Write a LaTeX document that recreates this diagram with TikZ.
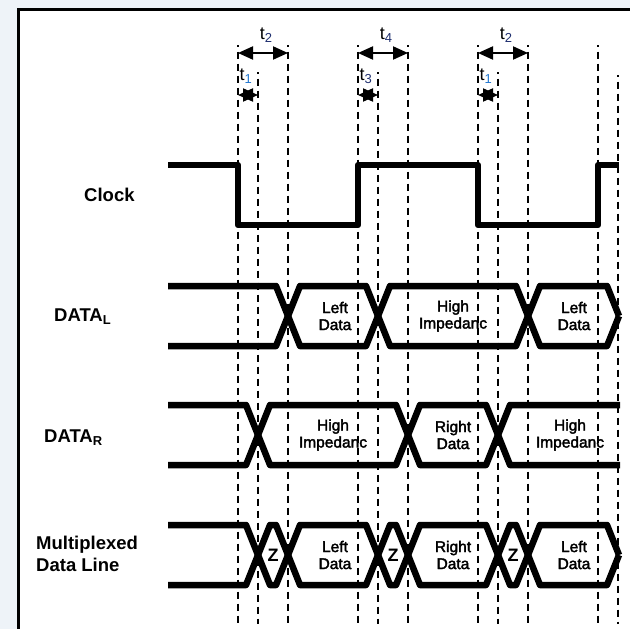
\documentclass[tikz,border=0pt]{standalone}
\usepackage{fontspec}
\setmainfont{Liberation Sans}
\newfontfamily\busfont[FakeBold=2.2]{Liberation Sans}
\usetikzlibrary{arrows.meta}
\definecolor{bgblue}{HTML}{EEF3F8}
\definecolor{subblue}{HTML}{2478D0}
\definecolor{subnavy}{HTML}{1F2F6F}
\newcommand{\tsub}[2]{t\raisebox{-3.5pt}{\fontsize{13}{13}\selectfont\color{#1}#2}}

\begin{document}
\begin{tikzpicture}[x=1pt,y=-1pt,
  wave/.style={line width=6.5pt, line join=round},
  guide/.style={line width=1.6pt, dash pattern=on 7pt off 5pt, dash phase=5.5pt},
  span/.style={line width=2pt, {Triangle[length=15pt,width=13pt]}-{Triangle[length=15pt,width=13pt]}},
  sig/.style={font=\fontsize{18.5}{22}\selectfont\bfseries, anchor=west, align=left, inner sep=0pt},
  bustext/.style={font=\busfont\fontsize{15.5}{17}\selectfont, align=center, inner sep=0pt},
  ztext/.style={font=\fontsize{18}{20}\selectfont\bfseries, inner sep=0pt},
  tlab/.style={font=\fontsize{18}{20}\selectfont, inner sep=0pt}
]
\useasboundingbox (0,0) rectangle (630,629);
\clip (0,0) rectangle (630,629);

% page background and frame
\fill[bgblue] (0,0) rectangle (630,629);
\filldraw[fill=white, draw=black, line width=2.8pt] (18.7,9.7) rectangle (660,660);

% signal names
\node[sig] (clk) at (84,195) {Clock};
\node[sig] (dl)  at (54,317) {DATA\textsubscript{L}};
\node[sig] (dr)  at (44,438) {DATA\textsubscript{R}};
\node[sig] (mux) at (36,554) {Multiplexed\\Data Line};

% clock
\draw[wave] (168,165) -- (238,165) -- (238,225) -- (358,225) -- (358,165)
  -- (478,165) -- (478,225) -- (598,225) -- (598,165) -- (619,165);

% DATA_L bus (top 286, bottom 346)
\draw[wave] (168,286) -- (276,286) -- (300,346) -- (366,346) -- (390,286)
  -- (516,286) -- (540,346) -- (607,346) -- (619,316);
\draw[wave] (168,346) -- (276,346) -- (300,286) -- (366,286) -- (390,346)
  -- (516,346) -- (540,286) -- (607,286) -- (619,316);
\node[bustext] (dl1) at (335,316) {Left\\Data};
\node[bustext] (dl2) at (453,316) {High\\Impedanc};
\node[bustext] (dl3) at (574,316) {Left\\Data};

% DATA_R bus (top 405, bottom 465)
\draw[wave] (168,405) -- (246,405) -- (270,465) -- (396,465) -- (420,405)
  -- (486,405) -- (510,465) -- (620,465);
\draw[wave] (168,465) -- (246,465) -- (270,405) -- (396,405) -- (420,465)
  -- (486,465) -- (510,405) -- (620,405);
\node[bustext] (dr1) at (333,435) {High\\Impedanc};
\node[bustext] (dr2) at (453,435) {Right\\Data};
\node[bustext] (dr3) at (570,435) {High\\Impedanc};

% multiplexed bus (top 525, bottom 585)
\draw[wave] (168,525) -- (246,525) -- (270,585) -- (276,585) -- (300,525)
  -- (366,525) -- (390,585) -- (396,585) -- (420,525) -- (486,525)
  -- (510,585) -- (516,585) -- (540,525) -- (607,525) -- (619,555);
\draw[wave] (168,585) -- (246,585) -- (270,525) -- (276,525) -- (300,585)
  -- (366,585) -- (390,525) -- (396,525) -- (420,585) -- (486,585)
  -- (510,525) -- (516,525) -- (540,585) -- (607,585) -- (619,555);
\node[ztext] (z1) at (273,555) {Z};
\node[ztext] (z2) at (393,555) {Z};
\node[ztext] (z3) at (513,555) {Z};
\node[bustext] (m1) at (335,555) {Left\\Data};
\node[bustext] (m2) at (453,555) {Right\\Data};
\node[bustext] (m3) at (574,555) {Left\\Data};

% timing guides
\foreach \gx/\gy in {238/45, 258/72, 288/45, 358/45, 378/72, 408/45,
                     478/45, 498/72, 528/45, 598/45, 618/75} {
  \coordinate (g\gx t) at (\gx,\gy);
  \coordinate (g\gx b) at (\gx,624);
  \draw[guide] (g\gx t) -- (g\gx b);
}

% timing spans
\coordinate (a1l) at (238,53);  \coordinate (a1r) at (288,53);
\coordinate (a2l) at (358,53);  \coordinate (a2r) at (408,53);
\coordinate (a3l) at (478,53);  \coordinate (a3r) at (528,53);
\coordinate (b1l) at (238,95);  \coordinate (b1r) at (258,95);
\coordinate (b2l) at (358,95);  \coordinate (b2r) at (378,95);
\coordinate (b3l) at (478,95);  \coordinate (b3r) at (498,95);
\draw[span] (a1l) -- (a1r);
\draw[span] (a2l) -- (a2r);
\draw[span] (a3l) -- (a3r);
\draw[span] (b1l) -- (b1r);
\draw[span] (b2l) -- (b2r);
\draw[span] (b3l) -- (b3r);

\node[tlab] (t2a) at (266,35) {\tsub{subnavy}{2}};
\node[tlab] (t4)  at (386,35) {\tsub{subnavy}{4}};
\node[tlab] (t2b) at (506,35) {\tsub{subnavy}{2}};
\node[tlab, anchor=west] (t1a) at (239.5,76) {\tsub{subblue}{1}};
\node[tlab, anchor=west] (t3)  at (359.5,76) {\tsub{subnavy}{3}};
\node[tlab, anchor=west] (t1b) at (479.5,76) {\tsub{subblue}{1}};
\end{tikzpicture}
\end{document}
